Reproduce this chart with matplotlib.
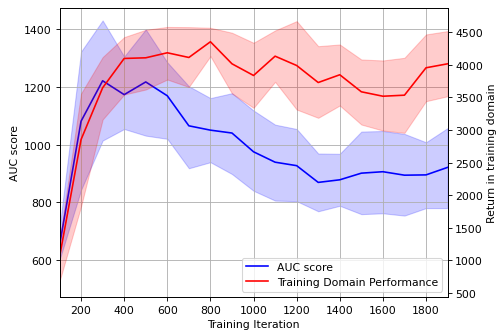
import matplotlib
matplotlib.use('Agg')
import matplotlib.pyplot as plt

# Data
iterations = [100, 200, 300, 400, 500, 600, 700, 800, 900, 1000,
              1100, 1200, 1300, 1400, 1500, 1600, 1700, 1800, 1900]

auc_mean = [650, 1081, 1221, 1173, 1217, 1169, 1065, 1050, 1040, 975,
            939, 927, 869, 878, 901, 906, 894, 895, 921]
auc_upper = [710, 1322, 1430, 1305, 1399, 1285, 1202, 1161, 1178, 1118,
             1069, 1054, 969, 968, 1045, 1047, 1037, 1008, 1057]
auc_lower = [600, 843, 1014, 1054, 1031, 1020, 918, 939, 898, 840,
             806, 804, 769, 788, 759, 762, 754, 780, 780]

ret_mean = [1050, 2854, 3647, 4097, 4107, 4184, 4112, 4353, 4015, 3836,
            4132, 3989, 3728, 3847, 3586, 3518, 3534, 3954, 4015]
ret_upper = [1300, 3560, 4117, 4424, 4536, 4580, 4577, 4567, 4491, 4337,
             4526, 4669, 4285, 4311, 4081, 4066, 4107, 4465, 4516]
ret_lower = [680, 1830, 3161, 3544, 3621, 3774, 3660, 4132, 3560, 3340,
             3739, 3314, 3187, 3376, 3084, 2992, 2957, 3442, 3518]

fig = plt.figure(figsize=(6.4, 4.256), dpi=78)
ax1 = fig.add_axes([0.1192, 0.1024, 0.7774, 0.8705])
ax2 = ax1.twinx()

line1, = ax1.plot(iterations, auc_mean, color='blue', label='AUC score')
ax1.fill_between(iterations, auc_lower, auc_upper, color='blue', alpha=0.2)
ax1.set_xlabel('Training Iteration')
ax1.set_ylabel('AUC score')
ax1.set_xlim(100, 1900)
ax1.set_ylim(472, 1473)
ax1.grid(True)

line2, = ax2.plot(iterations, ret_mean, color='red',
                  label='Training Domain Performance')
ax2.fill_between(iterations, ret_lower, ret_upper, color='red', alpha=0.2)
ax2.set_ylabel('Return in training domain')
ax2.set_ylim(440, 4870)

ax2.legend([line1, line2], ['AUC score', 'Training Domain Performance'],
           loc='lower right')

fig.savefig('out.png', dpi=78)
